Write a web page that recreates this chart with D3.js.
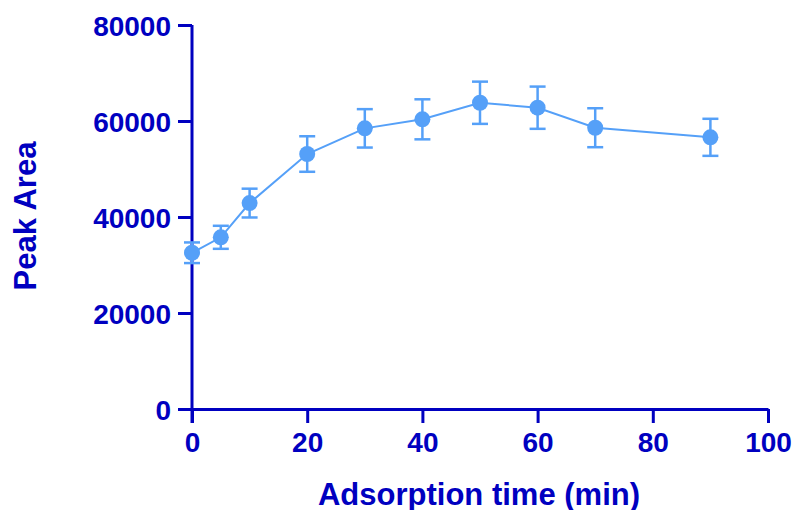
<!DOCTYPE html>
<html>
<head>
<meta charset="utf-8">
<script src="https://cdn.jsdelivr.net/npm/d3@7"></script>
<style>
  body { margin: 0; background: #fff; }
  text { font-family: "Liberation Sans", Arial, sans-serif; font-weight: bold; fill: #0000c0; }
</style>
</head>
<body>
<svg id="chart" width="795" height="510"></svg>
<script>
// adsorption time (min)
var times = [0, 5, 10, 20, 30, 40, 50, 60, 70, 90];
// mean peak area
var peakArea = [32550, 35770, 42900, 53120, 58470, 60350, 63800, 62770, 58600, 56600];
// error (+/-)
var errors = [2150, 2400, 3000, 3700, 4000, 4170, 4400, 4400, 4060, 3860];
var xTicks = [0, 20, 40, 60, 80, 100];
var yTicks = [0, 20000, 40000, 60000, 80000];

var axisColor = "#0000c0";
var dotColor = "#55a0f8";

var svg = d3.select("#chart");
var margin = { left: 192, top: 25 };
var w = 576, h = 384;

var x = d3.scaleLinear().domain([0, 100]).range([0, w]);
var y = d3.scaleLinear().domain([0, 80000]).range([h, 0]);

var g = svg.append("g").attr("transform", "translate(" + margin.left + "," + margin.top + ")");

// x axis
var xAxis = g.append("g")
  .attr("transform", "translate(0," + h + ")")
  .call(d3.axisBottom(x).tickValues(xTicks).tickFormat(d3.format("d"))
    .tickSize(14).tickSizeOuter(0).tickPadding(9));

// y axis
var yAxis = g.append("g")
  .call(d3.axisLeft(y).tickValues(yTicks).tickFormat(d3.format("d"))
    .tickSize(14).tickSizeOuter(0).tickPadding(7));

[xAxis, yAxis].forEach(function(a) {
  a.selectAll("path.domain").attr("stroke", axisColor).attr("stroke-width", 3);
  a.selectAll(".tick line").attr("stroke", axisColor).attr("stroke-width", 3);
  a.selectAll(".tick text").attr("fill", axisColor).style("font-size", "28px")
    .style("font-family", '"Liberation Sans", Arial, sans-serif').style("font-weight", "bold");
});
// y axis line goes down to the bottom of the x ticks
yAxis.select("path.domain").attr("d", "M0,0V" + (h + 14));
yAxis.selectAll(".tick text").attr("dy", "0.36em");

var data = times.map(function(t, i) { return { t: t, v: peakArea[i], e: errors[i] }; });

// connecting line
g.append("path")
  .datum(data)
  .attr("fill", "none")
  .attr("stroke", dotColor)
  .attr("stroke-width", 2)
  .attr("d", d3.line().x(function(d) { return x(d.t); }).y(function(d) { return y(d.v); }));

// error bars
var eb = g.append("g").attr("stroke", dotColor).attr("stroke-width", 2.5);
data.forEach(function(d) {
  eb.append("line").attr("x1", x(d.t)).attr("x2", x(d.t)).attr("y1", y(d.v + d.e)).attr("y2", y(d.v - d.e));
  eb.append("line").attr("x1", x(d.t) - 8).attr("x2", x(d.t) + 8).attr("y1", y(d.v + d.e)).attr("y2", y(d.v + d.e));
  eb.append("line").attr("x1", x(d.t) - 8).attr("x2", x(d.t) + 8).attr("y1", y(d.v - d.e)).attr("y2", y(d.v - d.e));
});

// points
g.selectAll("circle.pt")
  .data(data)
  .enter()
  .append("circle")
  .attr("class", "pt")
  .attr("cx", function(d) { return x(d.t); })
  .attr("cy", function(d) { return y(d.v); })
  .attr("r", 8)
  .attr("fill", dotColor);

// axis titles
svg.append("text")
  .attr("x", 479)
  .attr("y", 505)
  .attr("text-anchor", "middle")
  .style("font-size", "31px")
  .text("Adsorption time (min)");

svg.append("text")
  .attr("transform", "translate(36,216) rotate(-90)")
  .attr("text-anchor", "middle")
  .style("font-size", "31px")
  .text("Peak Area");
</script>
</body>
</html>
